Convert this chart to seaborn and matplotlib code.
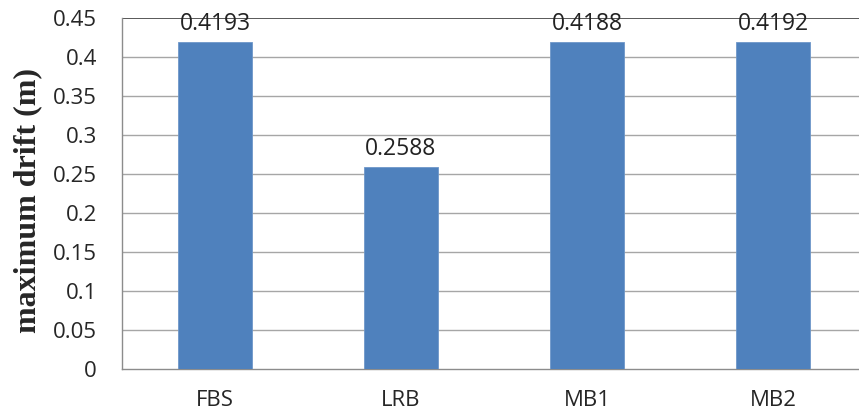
import matplotlib
matplotlib.use("Agg")
import matplotlib.pyplot as plt
import seaborn as sns
import pandas as pd

categories = ["FBS", "LRB", "MB1", "MB2"]
drift = [0.4193, 0.2588, 0.4188, 0.4192]
yticks = [0, 0.05, 0.1, 0.15, 0.2, 0.25, 0.3, 0.35, 0.4, 0.45]

df = pd.DataFrame({"case": categories, "drift": drift})

sns.set_style("white")
plt.rcParams["font.family"] = ["Open Sans", "DejaVu Sans"]

fig = plt.figure(figsize=(8.59, 4.19), dpi=100)
ax = fig.add_axes([122 / 859, 1 - 369 / 419, 744 / 859, (369 - 18) / 419])

sns.barplot(data=df, x="case", y="drift", color="#4f81bd", width=0.4,
            saturation=1, ax=ax, zorder=3, edgecolor="#6e97c9", linewidth=0.6)

ax.set_xlim(-0.5, 3.5)
ax.set_ylim(0, 0.45)
ax.set_yticks(yticks)
ax.set_yticklabels([f"{v:g}" for v in yticks])
for y in yticks[1:-1]:
    ax.axhline(y, color="#a6a6a6", lw=1, zorder=1)
ax.axhline(0.45, color="#3c3c3c", lw=1.2, zorder=1)

# category-boundary tick marks on the x axis
ax.set_xticks([0, 1, 2, 3])
ax.set_xticklabels(categories)
ax.set_xticks([-0.5, 0.5, 1.5, 2.5, 3.5], minor=True)
ax.tick_params(axis="x", which="major", length=0, pad=15, labelsize=16)
ax.tick_params(axis="x", which="minor", length=8, width=1, color="#8c8c8c",
               direction="out")
ax.tick_params(axis="y", length=8, width=1, color="#8c8c8c", direction="out",
               labelsize=16, pad=10)

for side in ["top", "right"]:
    ax.spines[side].set_visible(False)
for side in ["left", "bottom"]:
    ax.spines[side].set_color("#8c8c8c")
    ax.spines[side].set_linewidth(1)

for i, v in enumerate(drift):
    ax.text(i, v + 0.0155, f"{v:.4f}", ha="center", va="baseline", fontsize=16.5,
            color="#222222", zorder=4)

ax.set_xlabel("")
ax.set_ylabel("maximum drift (m)", family=["Liberation Serif"], fontweight="bold",
              fontsize=23)
ax.yaxis.set_label_coords(-0.107, 0.48)

fig.savefig("out.png", dpi=100)
